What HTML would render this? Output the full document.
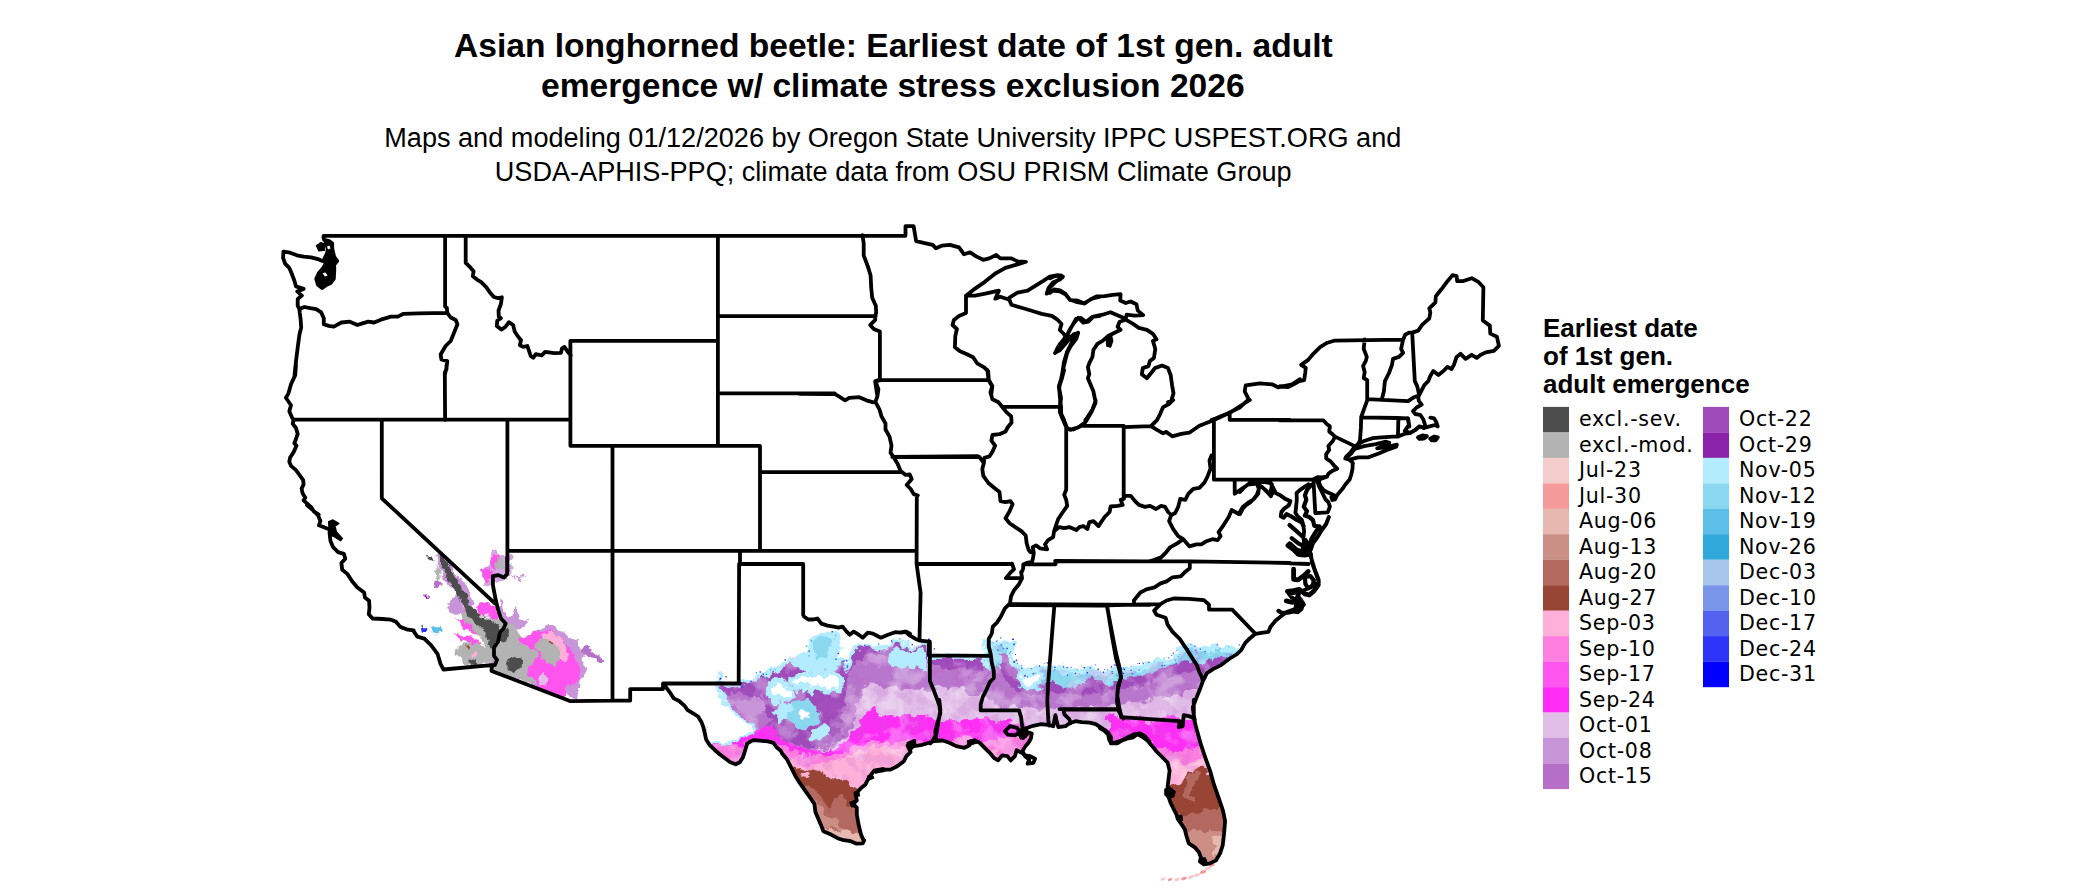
<!DOCTYPE html>
<html><head><meta charset="utf-8"><title>Asian longhorned beetle map</title>
<style>
html,body{margin:0;padding:0;background:#fff}
body{width:2100px;height:892px;overflow:hidden;position:relative;font-family:"Liberation Sans",Arial,sans-serif}
svg{position:absolute;left:0;top:0}
.t{font:bold 33.6px "Liberation Sans",Arial,sans-serif;fill:#000;text-anchor:middle}
.s{font:27.12px "Liberation Sans",Arial,sans-serif;fill:#000;text-anchor:middle}
.lt{font:bold 26px "Liberation Sans",Arial,sans-serif;fill:#000}
.ll text{font:20.6px "DejaVu Sans",Verdana,sans-serif;fill:#000;letter-spacing:0.7px}
.b path{fill:none;stroke:#000;stroke-width:3.8;stroke-linejoin:round;stroke-linecap:round}
</style></head><body>
<svg width="2100" height="892" viewBox="0 0 2100 892">
<rect width="2100" height="892" fill="#fff"/>
<text class="t" x="893.4" y="57">Asian longhorned beetle: Earliest date of 1st gen. adult</text>
<text class="t" x="892.8" y="96.8">emergence w/ climate stress exclusion 2026</text>
<text class="s" x="892.8" y="147.2">Maps and modeling 01/12/2026 by Oregon State University IPPC USPEST.ORG and</text>
<text class="s" x="893.2" y="180.8">USDA-APHIS-PPQ; climate data from OSU PRISM Climate Group</text>
<defs>
<filter id="rough" x="-5%" y="-5%" width="110%" height="110%"><feTurbulence type="fractalNoise" baseFrequency="0.09" numOctaves="3" seed="7" result="n"/><feDisplacementMap in="SourceGraphic" in2="n" scale="14" xChannelSelector="R" yChannelSelector="G"/></filter>
<filter id="rough2" x="-5%" y="-5%" width="110%" height="110%"><feTurbulence type="fractalNoise" baseFrequency="0.12" numOctaves="3" seed="3" result="n"/><feDisplacementMap in="SourceGraphic" in2="n" scale="9" xChannelSelector="R" yChannelSelector="G"/></filter>
<filter id="blotch" x="0" y="0" width="100%" height="100%"><feTurbulence type="fractalNoise" baseFrequency="0.045" numOctaves="3" seed="11"/><feColorMatrix values="0 0 0 0 1  0 0 0 0 1  0 0 0 0 1  1.8 0 0 0 -0.4"/><feComponentTransfer><feFuncA type="discrete" tableValues="0 0 0 0 0.12 0.24 0.3 0.3"/></feComponentTransfer></filter>
<filter id="blotch2" x="0" y="0" width="100%" height="100%"><feTurbulence type="fractalNoise" baseFrequency="0.06" numOctaves="3" seed="23"/><feColorMatrix values="0 0 0 0 0.5  0 0 0 0 0.1  0 0 0 0 0.6  0 1.8 0 0 -0.4"/><feComponentTransfer><feFuncA type="discrete" tableValues="0 0 0 0 0.08 0.16 0.2 0.2"/></feComponentTransfer></filter>
</defs>
<g filter="url(#rough)">
<path d="M703.4 737.9 L710.2 743 L721.9 745.3 L733.7 741.3 L745.5 736.3 L753.2 731.2 L748.8 722.8 L737.1 714.4 L727 706 L721.9 697.6 L717.6 687.5 L720.3 674.1 L725.3 682.5 L737.1 685.8 L748.8 680.8 L757.2 678.1 L765.7 675.7 L774.1 669 L780.8 666.7 L787.5 662.3 L790.9 657.2 L801 655.6 L807.7 652.2 L809.4 642.1 L817.8 637.1 L826.2 633 L835.3 632 L837.9 645.5 L835.3 657.2 L843 662.3 L848.7 669 L850.7 657.2 L853.1 648.8 L861.5 645.5 L873.3 646.5 L883.3 648.8 L891.7 645.5 L898.5 640.4 L905.2 645.5 L913.6 647.2 L922 643.8 L929.4 645.5 L930.4 657.2 L985.9 657.2 L990.3 657.2 L990.9 648.8 L996 645.5 L1000 643.8 L1006.7 642.1 L1011.8 645.5 L1010.1 657.2 L1016.8 667.3 L1025.2 672.4 L1033.6 670.7 L1042 667.3 L1050.4 670.7 L1057.2 669 L1067.2 670.7 L1077.3 672.4 L1087.4 669 L1097.5 670.7 L1107.6 672.4 L1116 670.7 L1124.4 670.7 L1134.5 669 L1147.9 665.7 L1158 662.3 L1168.1 660.6 L1178.2 657.2 L1183.3 648.8 L1188.3 645.5 L1198.4 650.5 L1208.5 652.2 L1215.2 645.5 L1221.9 650.5 L1235.4 652.2 L1245.5 648.8 L1269 648.8 L1269 892 L703.4 892Z" fill="#9f4bba" stroke="#b3ecff" stroke-width="3.5" stroke-linejoin="round"/>
<path d="M986.6 640.4 L1000 643.8 L1006.7 642.1 L1011.8 645.5 L1010.1 657.2 L1016.8 667.3 L1025.2 672.4 L1033.6 670.7 L1042 667.3 L1050.4 670.7 L1057.2 669 L1067.2 670.7 L1077.3 672.4 L1087.4 669 L1097.5 670.7 L1107.6 672.4 L1116 670.7 L1124.4 670.7 L1134.5 669 L1147.9 665.7 L1158 662.3 L1168.1 660.6 L1178.2 657.2 L1183.3 648.8 L1188.3 645.5 L1198.4 650.5 L1208.5 652.2 L1215.2 645.5 L1221.9 650.5 L1235.4 652.2 L1245.5 648.8 L1269 648.8 L1269 892 L986.6 892Z" fill="#8ad7f0" stroke="#b3ecff" stroke-width="6" stroke-linejoin="round"/>
<path d="M1000 652.2 L1006.7 657.2 L1013.4 670.7 L1020.2 687.5 L1033.6 689.2 L1043.7 687.5 L1050.4 680.8 L1063.9 687.5 L1077.3 687.5 L1087.4 679.1 L1094.1 674.1 L1100.9 685.8 L1114.3 684.1 L1121 679.1 L1134.5 675.7 L1151.3 672.4 L1168.1 667.3 L1181.6 662.3 L1195 660.6 L1201.7 662.3 L1215.2 657.2 L1228.6 657.2 L1242.1 655.6 L1269 655.6 L1269 892 L1000 892Z" fill="#9f4bba"/>
<path d="M690 748 L721.9 697.6 L732 692.6 L743.8 690.9 L752.2 697.6 L762.3 711 L770.7 717.8 L769 727.9 L778.1 735.3 L790.9 741.3 L804.3 748 L824.5 748 L837.9 741.3 L844.7 724.5 L841.3 707.7 L848 690.9 L851.4 670.7 L856.4 658.9 L864.8 653.9 L878.3 655.6 L891.7 655.6 L908.6 657.2 L925.4 658.9 L938.8 668 L959 669 L979.2 670 L989.3 670.7 L992.6 667.3 L1000 667.3 L1010.1 687.5 L1020.2 694.2 L1033.6 695.9 L1050.4 692.6 L1067.2 694.2 L1084.1 694.2 L1100.9 694.2 L1114.3 690.9 L1127.8 687.5 L1141.2 684.1 L1154.7 679.1 L1168.1 675.7 L1181.6 670.7 L1195 669 L1205.1 670.7 L1235.4 670.7 L1269 670.7 L1269 892 L690 892Z" fill="#b877cc"/>
<path d="M690 751.4 L790.9 748 L807.7 751.4 L831.2 748 L848 734.6 L854.8 717.8 L858.1 701 L864.8 687.5 L878.3 684.1 L891.7 687.5 L905.2 690.9 L922 687.5 L929.4 689.2 L942.2 687.5 L955.6 685.8 L969.1 690.9 L982.5 694.2 L992.6 701 L1000 707.7 L1020.2 706 L1033.6 707.7 L1050.4 709.4 L1067.2 707.7 L1084.1 706 L1100.9 706 L1114.3 704.3 L1127.8 702.6 L1144.6 701 L1158 697.6 L1174.8 694.2 L1188.3 690.9 L1198.4 690.9 L1235.4 690.9 L1269 690.9 L1269 892 L690 892Z" fill="#e1bee7"/>
<path d="M690 741.3 L740.4 737.9 L757.2 731.2 L770.7 727.9 L780.8 734.6 L794.2 744.7 L807.7 751.4 L824.5 750.7 L837.9 746.4 L848 737.9 L858.1 724.5 L864.8 714.4 L873.3 709.4 L881.7 716.1 L891.7 717.8 L908.6 716.1 L922 712.7 L932.1 716.1 L945.5 722.8 L959 721.1 L972.4 719.5 L985.9 716.1 L999.3 721.1 L1000 722.8 L1016.8 721.1 L1023.5 723.8 L1025.2 731.2 L1107.6 731.2 L1111 712.7 L1117.7 711 L1127.8 716.1 L1134.5 719.5 L1147.9 721.1 L1161.4 719.5 L1171.5 714.4 L1181.6 717.8 L1191.7 719.5 L1196.7 721.1 L1235.4 721.1 L1269 721.1 L1269 892 L690 892Z" fill="#ff2df5"/>
<path d="M690 748 L770.7 741.3 L784.1 748 L801 754.8 L824.5 754.8 L841.3 753.1 L858.1 746.4 L871.6 741.3 L885 743 L898.5 739.6 L911.9 741.3 L925.4 743 L938.8 744.7 L952.3 741.3 L965.7 737.9 L982.5 739.6 L999.3 741.3 L1000 737.9 L1020.2 734.6 L1033.6 737.9 L1033.6 751.4 L1134.5 751.4 L1141.2 737.9 L1154.7 748 L1168.1 748 L1181.6 751.4 L1195 748 L1201.7 746.4 L1235.4 746.4 L1269 746.4 L1269 892 L690 892Z" fill="#ff7fe0"/>
<path d="M690 764.8 L787.5 761.5 L801 764.8 L824.5 763.2 L841.3 758.1 L858.1 751.4 L871.6 746.4 L891.7 748 L905.2 748 L922 744.7 L932.1 743 L945.5 748 L992.6 751.4 L1000 758.1 L1151.3 758.1 L1161.4 758.1 L1174.8 761.5 L1188.3 761.5 L1201.7 758.1 L1206.8 761.5 L1235.4 761.5 L1269 761.5 L1269 892 L690 892Z" fill="#ffb0d8"/>
</g>
<clipPath id="oc"><path d="M703.4 737.9 L710.2 743 L721.9 745.3 L733.7 741.3 L745.5 736.3 L753.2 731.2 L748.8 722.8 L737.1 714.4 L727 706 L721.9 697.6 L717.6 687.5 L720.3 674.1 L725.3 682.5 L737.1 685.8 L748.8 680.8 L757.2 678.1 L765.7 675.7 L774.1 669 L780.8 666.7 L787.5 662.3 L790.9 657.2 L801 655.6 L807.7 652.2 L809.4 642.1 L817.8 637.1 L826.2 633 L835.3 632 L837.9 645.5 L835.3 657.2 L843 662.3 L848.7 669 L850.7 657.2 L853.1 648.8 L861.5 645.5 L873.3 646.5 L883.3 648.8 L891.7 645.5 L898.5 640.4 L905.2 645.5 L913.6 647.2 L922 643.8 L929.4 645.5 L930.4 657.2 L985.9 657.2 L990.3 657.2 L990.9 648.8 L996 645.5 L1000 643.8 L1006.7 642.1 L1011.8 645.5 L1010.1 657.2 L1016.8 667.3 L1025.2 672.4 L1033.6 670.7 L1042 667.3 L1050.4 670.7 L1057.2 669 L1067.2 670.7 L1077.3 672.4 L1087.4 669 L1097.5 670.7 L1107.6 672.4 L1116 670.7 L1124.4 670.7 L1134.5 669 L1147.9 665.7 L1158 662.3 L1168.1 660.6 L1178.2 657.2 L1183.3 648.8 L1188.3 645.5 L1198.4 650.5 L1208.5 652.2 L1215.2 645.5 L1221.9 650.5 L1235.4 652.2 L1245.5 648.8 L1269 648.8 L1269 892 L703.4 892Z"/></clipPath>
<g clip-path="url(#oc)"><rect x="690" y="630" width="640" height="262" fill="#fff" filter="url(#blotch)"/><rect x="690" y="630" width="640" height="262" fill="#fff" filter="url(#blotch2)"/></g>
<g filter="url(#rough)">
<path d="M781.1 770.6 L799.2 769.6 L801.2 767.6 L807.3 770.6 L815.4 768.6 L821.4 771.6 L825.5 777.7 L831.5 779.7 L837.6 776.7 L843.6 778.7 L848.7 784.7 L853.7 786.8 L858.7 788.8 L882 788.8 L882 892 L781.1 892Z" fill="#994536"/>
<path d="M781.1 784.7 L801.2 784.7 L809.3 785.8 L815.4 789.8 L821.4 796.9 L825.5 802.9 L830.5 807.9 L833.5 800.9 L838.6 796.9 L843.6 795.8 L848.7 803.9 L851.7 806.9 L859.8 804.9 L882 804.9 L882 892 L781.1 892Z" fill="#b3695e"/>
<path d="M809.3 796.9 L817.4 800.9 L821.4 806.9 L826.5 814 L831.5 818 L837.6 820.1 L841.6 829.1 L831.5 829.1 L821.4 825.1 L815.4 813 L810.3 800.9Z" fill="#cc8f85"/>
<path d="M801.2 826.1 L819.4 825.1 L827.5 829.1 L835.5 831.2 L841.6 829.1 L849.7 831.2 L856.7 834.2 L863.8 835.2 L882 835.2 L882 892 L801.2 892Z" fill="#e6b8af"/>
<path d="M801.6 774.3 L807.3 773.6 L808.9 777.7 L804.3 779.7 L801.2 777.7Z" fill="#ffb0d8"/>
<path d="M1150.4 784.7 L1168.6 784.7 L1174.7 782.7 L1180.7 780.7 L1184.7 774.7 L1190.8 770.6 L1196.9 767.6 L1202.9 766.6 L1206.9 769.6 L1211 774.7 L1231.2 774.7 L1231.2 892 L1150.4 892Z" fill="#994536"/>
<path d="M1184.7 776.7 L1194.8 770.6 L1200.9 770.6 L1196.9 780.7 L1192.8 790.8 L1194.8 800.9 L1190.8 804.9 L1186.8 794.8 L1184.7 786.8Z" fill="#b3695e"/>
<path d="M1150.4 813 L1174.7 813 L1182.7 816 L1190.8 813 L1200.9 812 L1209 810 L1219 809 L1241.2 809 L1241.2 892 L1150.4 892Z" fill="#b3695e"/>
<path d="M1150.4 831.2 L1186.8 831.2 L1194.8 833.2 L1200.9 829.1 L1206.9 833.2 L1213 829.1 L1221.1 831.2 L1241.2 831.2 L1241.2 892 L1150.4 892Z" fill="#cc8f85"/>
<path d="M1210 839.2 L1217 835.2 L1224.1 837.2 L1223.5 847.3 L1219 857.4 L1213 859.4 L1216 849.3 L1213 843.3Z" fill="#e6b8af"/>
</g>
<g filter="url(#rough)">
<path d="M710.2 743 L721.9 745.3 L733.7 741.3 L745.5 736.3 L753.2 731.2 L748.8 722.8 L737.1 714.4 L727 706 L721.9 697.6 L717.6 687.5 L719.6 674.1 L710.2 667.3 L683.3 667.3 L683.3 717.8 L700.1 724.5 L706.8 737.9Z" fill="#fff"/>
<path d="M710.2 743 L721.9 745.3 L733.7 741.3 L745.5 736.3 L753.2 731.2 L748.8 722.8 L737.1 714.4 L727 706 L721.9 697.6 L717.6 687.5 L719.6 674.1" fill="none" stroke="#b3ecff" stroke-width="3" stroke-linejoin="round" stroke-linecap="round"/>
<path d="M790.9 657.2 L807.7 652.2 L809.4 642.1 L817.8 637.1 L826.2 633 L835.3 632 L837.9 645.5 L835.3 657.2 L843 662.3 L837.9 670.7 L824.5 669 L817.8 674.1 L804.3 670.7 L794.2 667.3Z" fill="#b3ecff"/>
<path d="M814.4 640.4 L824.5 637.1 L831.2 643.8 L827.9 657.2 L819.5 662.3 L816.1 650.5Z" fill="#8ad7f0"/>
<path d="M888.4 652.2 L898.5 648.8 L908.6 652.2 L922 648.8 L927.1 657.2 L925.4 669 L915.3 665.7 L908.6 670.7 L898.5 667.3 L890.1 662.3Z" fill="#b3ecff"/>
<path d="M769 684.1 L777.4 680.1 L789.2 685.8 L792.6 694.2 L785.8 701 L774.1 699.3 L768 692.6Z" fill="#fff" stroke="#b3ecff" stroke-width="5" stroke-linejoin="round"/>
<path d="M790.9 678.1 L804.3 674.1 L817.8 675.7 L827.9 670.7 L837.9 674.1 L843 684.1 L837.9 690.9 L824.5 687.5 L814.4 690.9 L804.3 687.5 L794.2 685.8Z" fill="#fff" stroke="#b3ecff" stroke-width="5" stroke-linejoin="round"/>
<path d="M794.2 707.7 L806 704.3 L814.4 711 L812.7 721.1 L802.6 724.5 L794.2 719.5Z" fill="#fff" stroke="#8ad7f0" stroke-width="9" stroke-linejoin="round"/>
<path d="M775.7 706 L784.1 702.6 L790.9 707.7 L789.2 717.8 L780.8 722.8 L775.7 716.1Z" fill="#b3ecff"/>
<path d="M807.7 737.9 L814.4 731.2 L824.5 726.2 L829.5 729.5 L824.5 737.9 L814.4 741.3Z" fill="#b3ecff"/>
<path d="M1016.8 675.7 L1026.9 673.4 L1037 674.1 L1043 679.1 L1038.7 685.8 L1028.6 687.5 L1020.2 684.1Z" fill="#fff" stroke="#b3ecff" stroke-width="4" stroke-linejoin="round"/>
<path d="M740.4 701 L752.2 695.9 L764 702.6 L765.7 712.7 L753.9 716.1 L742.1 711Z" fill="#c896d8"/>
</g>
<g filter="url(#rough2)">
<path d="M492.3 549.3 L495.7 547.6 L499.1 555.1 L504.1 554.3 L507.5 553.5 L511.7 556 L510.8 565.2 L511.7 573.6 L507.5 578.7 L500.7 580.4 L494 582.1 L489 587.1 L484.8 585.4 L485.6 580.4 L481.4 577 L480.6 570.3 L486.4 567.8 L489 563.5 L490.6 556.8Z" fill="#d3a6df"/>
<path d="M481.4 570.3 L488.1 568.3 L493.2 572 L494 577.8 L488.1 582.9 L483.1 580.4Z" fill="#ff55ee"/>
<path d="M489.8 559.3 L495.7 555.1 L500.7 556 L499.9 562.7 L496.5 569.4 L491.5 567.8Z" fill="#ff55ee"/>
<path d="M496.5 558.5 L500.7 556.8 L504.1 560.2 L503.3 566.9 L499.1 569.4 L496.5 565.2Z" fill="#b3b3b3"/>
<path d="M511.7 573.6 L517.6 578.7 L520.9 584.6 L522.6 582.9 L519.2 577.8 L525.1 575.7 L523.4 574.5 L517.6 576.2Z" fill="#c896d8"/>
<path d="M435.1 551.8 L441 552.6 L447.8 559.3 L452.8 568.6 L456.2 576.2 L462.1 580.4 L467.9 587.1 L470.5 595.5 L474.7 603.9 L469.6 609 L462.1 606.4 L453.6 609.8 L446.9 608.1 L451.1 601.4 L457.8 596.3 L456.2 588.8 L450.3 586.3 L445.2 579.5 L441 572 L436.8 565.2Z" fill="#c896d8"/>
<path d="M426.7 556 L430.9 556.8 L432.6 561 L429.3 560.2Z" fill="#4d4d4d"/>
<path d="M434.3 588.8 L436.8 582.1 L441 581.2 L441.9 586.3 L438.5 590.5Z" fill="#b56fc9"/>
<path d="M436 566.9 L440.2 570.3 L441 579.5 L437.7 580.4Z" fill="#b3b3b3"/>
<path d="M424.2 594.7 L427.6 594.2 L427.7 597.2 L424.7 597.5Z" fill="#8a22aa"/>
<path d="M475.5 606.4 L487.3 603.1 L494.9 606.4 L499.9 615.7 L494.9 619.9 L487.3 616.5 L479.7 614.9Z" fill="#ff55ee"/>
<path d="M446.9 603.9 L458.7 606.4 L470.5 610.6 L477.2 615.7 L470.5 617.4 L460.4 614 L450.3 610.6Z" fill="#c896d8"/>
<path d="M463.7 612.3 L475.5 614 L487.3 617.4 L499.1 619.1 L504.1 623.3 L499.1 634.2 L495.7 642.6 L494 654.4 L487.3 651 L482.2 640.9 L475.5 634.2 L468.8 627.5 L462.1 620.7 L458.7 615.7Z" fill="#b3b3b3"/>
<path d="M457 619.1 L463.7 620.7 L472.1 629.2 L477.2 635.9 L470.5 634.2 L463.7 627.5Z" fill="#ff55ee"/>
<path d="M452 631.7 L460.4 634.2 L470.5 637.6 L478.9 642.6 L483.9 649.3 L475.5 647.7 L467.1 640.9 L458.7 637.6Z" fill="#ff55ee"/>
<path d="M438.3 554.5 L445.7 557.7 L451.1 570.5 L456.4 580.1 L463.8 591.8 L470.2 602.4 L476.6 612 L485.1 618.4 L495.8 623.8 L501.1 625.9 L500.1 634.4 L495.8 642.9 L491.5 649.3 L487.3 640.8 L485.1 630.1 L476.6 623.8 L469.2 617.4 L462.8 606.7 L456.4 593.9 L450 583.3 L444.7 571.6 L440 562Z" fill="#4d4d4d"/>
<path d="M504.3 627 L508.6 630.1 L507.5 638.7 L503.3 642.9 L500.1 636.5Z" fill="#4d4d4d"/>
<path d="M457.8 647.7 L463.7 644.3 L470.5 640.9 L477.2 644.3 L485.6 647.7 L493.2 651 L496.5 657.7 L496.5 663.6 L464.6 665.3 L460.4 657.7 L457 652.7Z" fill="#b3b3b3"/>
<path d="M471.3 653.5 L475.5 653 L475.8 656.4 L471.8 656.9Z" fill="#ffb0d8"/>
<path d="M471.3 661.1 L476.3 660.3 L475.5 664.5 L471.8 664.8Z" fill="#4d4d4d"/>
<path d="M466.8 645.1 L469.6 645.6 L468.8 648 L466.4 647.3Z" fill="#994536"/>
<path d="M499.1 600.6 L502.1 600.2 L504.1 610.6 L507.5 619.1 L512.2 614.9 L514.2 606.4 L516.2 606.4 L517.6 615.7 L521.8 621.6 L526.8 619.9 L527.7 624.1 L520.9 627.5 L515.9 634.2 L524.3 635.9 L534.4 630.8 L541.1 627.5 L547.8 624.1 L554.6 627.5 L559.6 630.8 L564.7 631.7 L568 639.2 L577.3 638.4 L574.8 642.6 L581.5 649.3 L586.5 646 L594.9 652.7 L603.3 660.3 L601.7 662.8 L593.3 657.7 L586.5 656.1 L581.5 657.7 L585.7 672.9 L579.8 679.6 L578.1 699.8 L490.6 670.4 L494 656.1 L495.7 647.7 L500.7 634.2 L504.1 624.1 L502.4 619.1 L499.1 610.6Z" fill="#c896d8"/>
<path d="M499.1 620.7 L507.5 622.4 L514.2 625.8 L520.9 634.2 L527.7 637.6 L537.7 640.9 L547.8 639.2 L554.6 642.6 L559.6 651 L561.3 661.1 L554.6 667.8 L544.5 672.9 L536.1 681.3 L527.7 684.7 L520.9 679.6 L490.6 670.4 L494.9 663.6 L494 656.1 L495.7 647.7 L499.1 634.2 L504.1 624.1Z" fill="#b3b3b3"/>
<path d="M517.6 637.6 L524.3 635.9 L534.4 631.7 L541.1 630.8 L549.5 630.8 L556.2 634.2 L563 640.9 L569.7 649.3 L574.8 657.7 L578.1 667.8 L579 677.9 L574.8 684.7 L568 683 L563 699.8 L544.5 699.8 L537.7 683 L529.3 674.6 L527.7 669.5 L531 661.1 L537.7 656.1 L534.4 649.3 L527.7 647.7 L520.9 644.3Z" fill="#ff55ee"/>
<path d="M541.1 634.2 L549.5 631.7 L557.9 635.9 L564.7 644.3 L568 654.4 L566.3 661.1 L559.6 656.1 L554.6 649.3 L547.8 644.3 L542.8 640.9Z" fill="#ffb0d8"/>
<path d="M537.7 640.9 L547.8 639.2 L554.6 642.6 L559.6 651 L561.3 661.1 L554.6 666.2 L547.8 662.8 L541.1 657.7 L536.1 649.3Z" fill="#b3b3b3"/>
<path d="M507.5 659.4 L514.2 656.9 L520.9 659.4 L520.9 666.2 L514.2 670.4 L507.5 667.8Z" fill="#4d4d4d"/>
<path d="M500.7 630.8 L507.5 627.5 L510 634.2 L506.6 640.9 L502.4 642.6 L499.1 639.2Z" fill="#4d4d4d"/>
<path d="M537.7 676.2 L544.5 672.9 L547.8 679.6 L544.5 684.7 L539.4 683Z" fill="#e1bee7"/>
<path d="M548.7 640.9 L554.6 641.8 L553.7 644.3 L549.5 643.4Z" fill="#994536"/>
<path d="M581.5 647.7 L586.5 645.6 L594.9 652.4 L603.3 659.8 L601.7 662.5 L593.3 657.7 L586.5 655.7 L582.3 652.7Z" fill="#b56fc9"/>
<path d="M420 627.5 L425.9 627.1 L426.4 630.8 L420.8 631.7Z" fill="#2b34f8"/>
<path d="M431.8 627.5 L441 626.1 L441.5 631.7 L432.6 632.5Z" fill="#5cc0e8"/>
</g>
<rect x="1067.0" y="674.6" width="1.0" height="1.0" fill="#0000ff"/><rect x="1215.1" y="650.0" width="1.2" height="1.2" fill="#5cc0e8"/><rect x="986.8" y="655.8" width="1.2" height="1.2" fill="#2b34f8"/><rect x="1049.8" y="666.0" width="1.2" height="1.2" fill="#5462f0"/><rect x="1034.5" y="672.7" width="1.0" height="1.0" fill="#5462f0"/><rect x="1139.0" y="663.1" width="1.0" height="1.0" fill="#0000ff"/><rect x="1174.9" y="659.6" width="1.2" height="1.2" fill="#2fa9dc"/><rect x="1043.8" y="663.1" width="1.0" height="1.0" fill="#2fa9dc"/><rect x="1015.7" y="659.6" width="1.5" height="1.5" fill="#2b34f8"/><rect x="1038.9" y="665.4" width="1.2" height="1.2" fill="#0000ff"/><rect x="1137.4" y="663.0" width="1.0" height="1.0" fill="#5462f0"/><rect x="1010.0" y="651.4" width="1.2" height="1.2" fill="#2fa9dc"/><rect x="928.1" y="638.6" width="1.5" height="1.5" fill="#0000ff"/><rect x="1122.7" y="667.5" width="1.5" height="1.5" fill="#5462f0"/><rect x="1190.5" y="643.9" width="1.0" height="1.0" fill="#5462f0"/><rect x="929.2" y="654.5" width="1.5" height="1.5" fill="#5462f0"/><rect x="1242.3" y="649.5" width="1.5" height="1.5" fill="#2b34f8"/><rect x="927.0" y="645.1" width="1.5" height="1.5" fill="#5462f0"/><rect x="1024.2" y="675.0" width="1.5" height="1.5" fill="#2b34f8"/><rect x="1183.9" y="647.0" width="1.5" height="1.5" fill="#0000ff"/><rect x="1185.8" y="651.0" width="1.5" height="1.5" fill="#2fa9dc"/><rect x="1081.2" y="666.4" width="1.0" height="1.0" fill="#2fa9dc"/><rect x="1110.8" y="666.3" width="1.2" height="1.2" fill="#0000ff"/><rect x="1076.9" y="669.0" width="1.0" height="1.0" fill="#2fa9dc"/><rect x="1103.0" y="671.7" width="1.0" height="1.0" fill="#0000ff"/><rect x="1094.8" y="664.3" width="1.0" height="1.0" fill="#5462f0"/><rect x="1230.6" y="654.0" width="1.0" height="1.0" fill="#5462f0"/><rect x="1122.6" y="668.8" width="1.2" height="1.2" fill="#5cc0e8"/><rect x="991.3" y="659.8" width="1.0" height="1.0" fill="#2fa9dc"/><rect x="1111.7" y="672.8" width="1.0" height="1.0" fill="#0000ff"/><rect x="1012.2" y="638.5" width="1.5" height="1.5" fill="#0000ff"/><rect x="1168.3" y="657.4" width="1.0" height="1.0" fill="#0000ff"/><rect x="1015.0" y="654.0" width="1.0" height="1.0" fill="#2b34f8"/><rect x="1218.1" y="649.5" width="1.5" height="1.5" fill="#5cc0e8"/><rect x="1190.8" y="650.7" width="1.2" height="1.2" fill="#5cc0e8"/><rect x="1006.4" y="647.7" width="1.5" height="1.5" fill="#2b34f8"/><rect x="1204.6" y="650.9" width="1.0" height="1.0" fill="#2b34f8"/><rect x="1216.7" y="644.3" width="1.0" height="1.0" fill="#0000ff"/><rect x="1123.1" y="672.8" width="1.0" height="1.0" fill="#0000ff"/><rect x="1131.4" y="672.8" width="1.5" height="1.5" fill="#5462f0"/><rect x="1066.4" y="666.8" width="1.2" height="1.2" fill="#2b34f8"/><rect x="1113.7" y="664.4" width="1.0" height="1.0" fill="#0000ff"/><rect x="1241.8" y="645.9" width="1.2" height="1.2" fill="#2b34f8"/><rect x="1086.7" y="672.2" width="1.2" height="1.2" fill="#0000ff"/><rect x="1117.1" y="675.0" width="1.5" height="1.5" fill="#2fa9dc"/><rect x="1164.3" y="665.1" width="1.0" height="1.0" fill="#2b34f8"/><rect x="1186.8" y="648.2" width="1.0" height="1.0" fill="#5462f0"/><rect x="1219.4" y="647.7" width="1.5" height="1.5" fill="#5cc0e8"/><rect x="1187.8" y="648.0" width="1.0" height="1.0" fill="#0000ff"/><rect x="1162.0" y="662.0" width="1.0" height="1.0" fill="#5cc0e8"/><rect x="1161.5" y="665.2" width="1.2" height="1.2" fill="#2b34f8"/><rect x="1070.7" y="666.8" width="1.0" height="1.0" fill="#2b34f8"/><rect x="1178.8" y="654.1" width="1.0" height="1.0" fill="#5cc0e8"/><rect x="1018.4" y="669.2" width="1.0" height="1.0" fill="#5cc0e8"/><rect x="1046.5" y="662.2" width="1.5" height="1.5" fill="#5462f0"/><rect x="1021.2" y="667.7" width="1.2" height="1.2" fill="#2b34f8"/><rect x="1120.1" y="670.8" width="1.2" height="1.2" fill="#5cc0e8"/><rect x="1054.3" y="666.7" width="1.2" height="1.2" fill="#0000ff"/><rect x="1078.8" y="673.4" width="1.2" height="1.2" fill="#5cc0e8"/><rect x="1235.5" y="651.3" width="1.5" height="1.5" fill="#5cc0e8"/><rect x="997.3" y="649.4" width="1.5" height="1.5" fill="#5462f0"/><rect x="1089.5" y="667.2" width="1.2" height="1.2" fill="#2b34f8"/><rect x="1259.5" y="643.5" width="1.0" height="1.0" fill="#0000ff"/><rect x="1145.7" y="671.8" width="1.0" height="1.0" fill="#5cc0e8"/><rect x="995.8" y="640.7" width="1.2" height="1.2" fill="#5462f0"/><rect x="1000.6" y="644.4" width="1.0" height="1.0" fill="#0000ff"/><rect x="1107.0" y="669.3" width="1.2" height="1.2" fill="#2fa9dc"/><rect x="1177.9" y="656.0" width="1.0" height="1.0" fill="#2fa9dc"/><rect x="1142.5" y="662.6" width="1.5" height="1.5" fill="#5462f0"/><rect x="1063.0" y="666.3" width="1.2" height="1.2" fill="#2b34f8"/><rect x="933.6" y="648.1" width="1.5" height="1.5" fill="#5462f0"/><rect x="1074.9" y="672.8" width="1.2" height="1.2" fill="#2b34f8"/><rect x="1175.8" y="649.8" width="1.5" height="1.5" fill="#5cc0e8"/><rect x="1148.3" y="661.9" width="1.2" height="1.2" fill="#5462f0"/><rect x="1194.2" y="645.6" width="1.2" height="1.2" fill="#2b34f8"/><rect x="1008.9" y="652.8" width="1.0" height="1.0" fill="#5462f0"/><rect x="1196.4" y="651.7" width="1.2" height="1.2" fill="#5462f0"/><rect x="997.1" y="640.2" width="1.0" height="1.0" fill="#2fa9dc"/><rect x="1114.6" y="664.7" width="1.2" height="1.2" fill="#2b34f8"/><rect x="1121.0" y="670.8" width="1.2" height="1.2" fill="#2fa9dc"/><rect x="931.0" y="658.4" width="1.0" height="1.0" fill="#5cc0e8"/><rect x="999.9" y="637.2" width="1.5" height="1.5" fill="#2fa9dc"/><rect x="1175.6" y="663.0" width="1.5" height="1.5" fill="#5462f0"/><rect x="1199.7" y="648.5" width="1.2" height="1.2" fill="#2b34f8"/><rect x="1032.5" y="673.0" width="1.5" height="1.5" fill="#5462f0"/><rect x="1097.4" y="668.6" width="1.5" height="1.5" fill="#2b34f8"/><rect x="1083.6" y="666.9" width="1.5" height="1.5" fill="#2b34f8"/><rect x="1013.7" y="661.0" width="1.2" height="1.2" fill="#0000ff"/><rect x="1111.5" y="671.0" width="1.2" height="1.2" fill="#2b34f8"/><rect x="984.0" y="660.0" width="1.0" height="1.0" fill="#5cc0e8"/><rect x="986.9" y="653.3" width="1.0" height="1.0" fill="#2fa9dc"/><rect x="992.5" y="642.4" width="1.0" height="1.0" fill="#2fa9dc"/><rect x="1002.6" y="647.9" width="1.2" height="1.2" fill="#5462f0"/><rect x="1013.4" y="643.7" width="1.5" height="1.5" fill="#0000ff"/><rect x="1021.2" y="665.3" width="1.2" height="1.2" fill="#2fa9dc"/><rect x="1030.8" y="668.1" width="1.0" height="1.0" fill="#2b34f8"/><rect x="991.0" y="649.3" width="1.5" height="1.5" fill="#5cc0e8"/><rect x="1153.8" y="660.9" width="1.0" height="1.0" fill="#5cc0e8"/><rect x="1104.3" y="669.1" width="1.0" height="1.0" fill="#2b34f8"/><rect x="1130.7" y="665.7" width="1.0" height="1.0" fill="#2b34f8"/><rect x="1260.4" y="652.7" width="1.2" height="1.2" fill="#2fa9dc"/><rect x="1238.7" y="644.1" width="1.5" height="1.5" fill="#2fa9dc"/><rect x="1054.1" y="669.5" width="1.0" height="1.0" fill="#2b34f8"/><rect x="1013.7" y="643.3" width="1.2" height="1.2" fill="#5cc0e8"/><rect x="1138.6" y="669.3" width="1.2" height="1.2" fill="#5462f0"/><rect x="990.1" y="650.3" width="1.2" height="1.2" fill="#5462f0"/><rect x="1210.4" y="651.7" width="1.0" height="1.0" fill="#2fa9dc"/><rect x="1194.9" y="649.7" width="1.5" height="1.5" fill="#5462f0"/><rect x="1228.1" y="646.5" width="1.0" height="1.0" fill="#5cc0e8"/><rect x="1172.8" y="652.7" width="1.2" height="1.2" fill="#2b34f8"/><rect x="1203.8" y="652.4" width="1.5" height="1.5" fill="#5cc0e8"/><rect x="1121.3" y="674.9" width="1.5" height="1.5" fill="#5462f0"/><rect x="1121.7" y="672.4" width="1.2" height="1.2" fill="#5462f0"/><rect x="1123.9" y="668.9" width="1.2" height="1.2" fill="#0000ff"/><rect x="1130.4" y="669.7" width="1.2" height="1.2" fill="#2b34f8"/><rect x="1016.9" y="662.7" width="1.2" height="1.2" fill="#2fa9dc"/><rect x="1026.8" y="676.3" width="1.2" height="1.2" fill="#5462f0"/><rect x="1115.8" y="674.4" width="1.2" height="1.2" fill="#5cc0e8"/><rect x="1171.1" y="654.8" width="1.2" height="1.2" fill="#5462f0"/><rect x="1013.5" y="661.3" width="1.5" height="1.5" fill="#2b34f8"/><rect x="765.5" y="677.0" width="1.4" height="1.4" fill="#2fa9dc"/><rect x="741.4" y="686.4" width="1.4" height="1.4" fill="#2b34f8"/><rect x="770.2" y="669.1" width="1.4" height="1.4" fill="#5cc0e8"/><rect x="831.5" y="630.9" width="1.4" height="1.4" fill="#2b34f8"/><rect x="765.6" y="673.6" width="1.4" height="1.4" fill="#2fa9dc"/><rect x="808.4" y="650.4" width="1.4" height="1.4" fill="#2b34f8"/><rect x="889.2" y="651.1" width="1.4" height="1.4" fill="#2fa9dc"/><rect x="898.9" y="637.9" width="1.4" height="1.4" fill="#5cc0e8"/><rect x="755.7" y="672.0" width="1.4" height="1.4" fill="#2fa9dc"/><rect x="762.6" y="673.5" width="1.4" height="1.4" fill="#2b34f8"/><rect x="774.4" y="669.1" width="1.4" height="1.4" fill="#5cc0e8"/><rect x="835.0" y="634.7" width="1.4" height="1.4" fill="#5cc0e8"/><rect x="805.7" y="645.5" width="1.4" height="1.4" fill="#2fa9dc"/><rect x="843.2" y="660.3" width="1.4" height="1.4" fill="#2b34f8"/><rect x="719.4" y="678.3" width="1.4" height="1.4" fill="#2b34f8"/><rect x="835.3" y="658.5" width="1.4" height="1.4" fill="#2b34f8"/><rect x="899.1" y="642.2" width="1.4" height="1.4" fill="#5cc0e8"/><rect x="725.4" y="676.0" width="1.4" height="1.4" fill="#2b34f8"/><rect x="837.6" y="652.8" width="1.4" height="1.4" fill="#2b34f8"/><rect x="784.5" y="659.2" width="1.4" height="1.4" fill="#2b34f8"/><rect x="845.5" y="659.6" width="1.4" height="1.4" fill="#2fa9dc"/><rect x="720.1" y="677.7" width="1.4" height="1.4" fill="#2b34f8"/><rect x="877.9" y="643.3" width="1.4" height="1.4" fill="#2fa9dc"/><rect x="808.3" y="655.1" width="1.4" height="1.4" fill="#5cc0e8"/><rect x="846.1" y="660.2" width="1.4" height="1.4" fill="#2b34f8"/><rect x="743.7" y="684.1" width="1.4" height="1.4" fill="#5cc0e8"/><rect x="810.7" y="639.9" width="1.4" height="1.4" fill="#2fa9dc"/><rect x="883.0" y="651.9" width="1.4" height="1.4" fill="#5cc0e8"/><rect x="843.4" y="667.6" width="1.4" height="1.4" fill="#2fa9dc"/><rect x="911.6" y="643.9" width="1.4" height="1.4" fill="#2b34f8"/><rect x="904.4" y="648.2" width="1.4" height="1.4" fill="#5cc0e8"/><rect x="891.7" y="641.8" width="1.4" height="1.4" fill="#5cc0e8"/><rect x="847.0" y="665.0" width="1.4" height="1.4" fill="#5cc0e8"/><rect x="842.3" y="663.6" width="1.4" height="1.4" fill="#5cc0e8"/><rect x="864.1" y="644.7" width="1.4" height="1.4" fill="#2b34f8"/><rect x="846.6" y="664.7" width="1.4" height="1.4" fill="#2fa9dc"/><rect x="846.7" y="666.3" width="1.4" height="1.4" fill="#2b34f8"/><rect x="750.3" y="680.7" width="1.4" height="1.4" fill="#2b34f8"/><rect x="759.5" y="671.3" width="1.4" height="1.4" fill="#2b34f8"/><rect x="890.9" y="640.3" width="1.4" height="1.4" fill="#2b34f8"/>
<path d="M443.5 669.5 L494 664.9 L491.5 670.9 L570.6 701.2 L613 700.6 L630.2 700.6 L630.2 689.1 L639.2 689.1 L660 689.1 L663 689.1 L663.3 686.9 L665.8 686.9 L669.8 692.3 L673.8 698.4 L679.2 701 L684.6 705.8 L687.3 709.8 L692.7 713.2 L698.1 716.5 L701.4 721.9 L703.4 727.3 L704.8 733.3 L706.1 739.4 L709.5 744.8 L714.2 749.5 L719.6 754.2 L725 758.2 L730.3 762.3 L735.7 764.3 L739.8 762.3 L743.1 756.9 L745.2 750.2 L747.2 743.4 L753.2 740.1 L760 740.7 L768 741.4 L773.4 742.8 L776.8 747.5 L780.8 750.8 L782.2 753.5 L787.1 759.5 L791.2 767.6 L795.2 775.7 L800.2 783.7 L805.3 790.8 L810.3 797.9 L814.4 803.9 L815.4 812 L818.4 819 L821.4 826.1 L823.4 831.2 L831.5 834.8 L837.6 838.2 L843.6 840.2 L850.7 841.2 L856.7 843.7 L862.8 843.3 L864.2 840.2 L863.5 840.3 L861 834.4 L858.5 824.3 L856.8 814.2 L856.8 807.5 L852.1 804.1 L856.8 800.7 L855.5 794 L861.9 787.3 L865.2 784.8 L868.9 777.5 L873.6 771.3 L882.1 769.6 L890.5 769.6 L897.2 766.3 L903.9 761.2 L906.4 756.2 L910.6 752 L907.6 745.6 L914 741 L914 746.1 L920.7 745.2 L929.2 742.7 L934.2 741 L942.6 740.5 L949.3 742.7 L956.1 746.1 L964.5 747.8 L969.5 745.2 L968.7 741.9 L974.6 740.5 L979.6 742.7 L984.7 747.8 L989.7 752.8 L993.9 757.8 L998.1 760.4 L1002.3 755.3 L1007.4 756.2 L1010.7 760.4 L1014.9 756.2 L1016.6 750.3 L1021.7 752.8 L1025 755.3 L1030.1 756.2 L1035.1 758.7 L1033.4 762.9 L1027.6 763.7 L1029.2 759.5 L1025 756.2 L1022.5 751.1 L1025 746.9 L1028.4 742.7 L1030.9 738.5 L1031.8 733.5 L1026.7 731.8 L1026 728.2 L1026.1 728.2 L1033.2 725.8 L1041.2 724.2 L1049.3 725.2 L1053.3 726.2 L1055.4 715.1 L1056.4 720.2 L1058.4 727.2 L1065.5 726.2 L1069.5 723.2 L1075.5 721.2 L1081.6 722.2 L1089.7 722.6 L1095.7 724.2 L1100 728.2 L1104 730.3 L1108.1 734.3 L1109.1 739.3 L1111.1 743.4 L1117.2 743.4 L1122.2 740.4 L1128.2 738.3 L1133.3 737.3 L1137.3 734.3 L1141.4 736.3 L1147.4 740.4 L1152.5 746.4 L1156.5 751.5 L1162.6 757.5 L1167.6 762.6 L1169.6 770.6 L1168.6 778.7 L1167.6 786.8 L1168.6 796.9 L1170.6 802.9 L1173.6 809 L1176.7 815 L1177.7 819 L1180.7 823.1 L1184.7 829.1 L1186.8 837.2 L1188.8 843.3 L1194.8 847.3 L1198.9 852.3 L1200.9 857.4 L1199.9 861.4 L1203.9 864.4 L1210 863.4 L1216 860.4 L1220.1 853.3 L1222.7 845.3 L1224.1 833.2 L1225.1 821.1 L1223.1 811 L1219 798.9 L1214 784.7 L1210 770.6 L1204.9 756.5 L1200.9 744.4 L1196.9 730.3 L1193.8 718.2 L1193.8 708.1 L1193.8 700 L1193.8 715.5 L1192.8 707.5 L1195.8 699.4 L1199.9 689.3 L1202.9 681.2 L1206.9 673.2 L1213 669.1 L1221.1 665.1 L1229.1 659 L1237.2 654 L1241.2 650 L1245.3 642.9 L1250.3 637.9 L1255.4 633.8 L1261.4 632.8 L1268.5 631.8 L1270.5 626.8 L1275.5 620.7 L1281.6 615.7 L1287.7 611.6 L1293.7 609.6 L1299.8 608.6 L1303.8 604.6 L1298.7 601.5 L1291.7 597.5 L1288.7 593.5 L1296.7 592.5 L1303.8 590.4 L1309.8 587.4 L1313.9 584.4 L1318.9 582.4 L1316.9 576.3 L1313.9 568.2 L1311.9 562.2 L1310.9 554.1 L1308.8 548.1 L1305.8 540 L1420 540 L1420 892 L443.5 892Z" fill="#fff"/>
<ellipse cx="1163" cy="879" rx="2.6" ry="1.3" fill="#f4cccc" transform="rotate(-20 1163 879)"/>
<ellipse cx="1170" cy="879.5" rx="2.4" ry="1.2" fill="#f49a9a" transform="rotate(-20 1170 879.5)"/>
<ellipse cx="1177" cy="879.5" rx="3.0" ry="1.5" fill="#f4cccc" transform="rotate(-20 1177 879.5)"/>
<ellipse cx="1184" cy="878.5" rx="3.0" ry="1.5" fill="#f49a9a" transform="rotate(-20 1184 878.5)"/>
<ellipse cx="1191" cy="877" rx="3.2" ry="1.6" fill="#f4cccc" transform="rotate(-20 1191 877)"/>
<ellipse cx="1197" cy="875" rx="3.2" ry="1.6" fill="#f4cccc" transform="rotate(-20 1197 875)"/>
<ellipse cx="1203" cy="872" rx="3.2" ry="1.6" fill="#f49a9a" transform="rotate(-20 1203 872)"/>
<ellipse cx="1208" cy="868.5" rx="3.2" ry="1.6" fill="#f4cccc" transform="rotate(-20 1208 868.5)"/>
<ellipse cx="1212" cy="865" rx="3.0" ry="1.5" fill="#f49a9a" transform="rotate(-20 1212 865)"/>
<ellipse cx="1215.5" cy="861" rx="3.0" ry="1.5" fill="#f4cccc" transform="rotate(-20 1215.5 861)"/>
<path d="M1294 600 L1302 597 L1306 604 L1300 610 L1295 607Z" fill="#5cc0e8"/>
<g class="b">
<path d="M485 235.9 L324.6 235.9 L323.4 237.1 L324.1 239.8 L329.1 241 L332.2 243.2 L332.2 248.5 L333.3 253.2 L334.2 256.9 L337.2 261.1 L334.2 264.5 L334.3 270.4 L333.8 278.8 L330.5 283 L326.3 285 L322.1 288 L317.9 284.7 L316.2 278.8 L319 272.9 L323.3 267.9 L325.4 264.5 L325.1 261.1 L321.7 260.8 L317.9 259.1 M317.9 259.1 L311.1 257.3 L303.6 256.6 L296.9 255.3 L290.1 252.7 L283.4 251.6 L283.1 257.8 L285.1 263.7 L289.3 267.9 L291.8 273.8 L294.3 280.5 L296 286.4 L303.6 288.9 L297.2 291.4 L301.9 295.6 L297.7 299 L297.7 305.7 L299.4 309.1 M299.4 309.1 L304.4 307 L310.3 308.2 L316.2 309.1 L321.2 312.4 L323.8 318.3 L323.8 324.2 L328.8 325.9 L333.8 326.7 L341.4 322.5 L349.8 321.7 L357.4 325 L362.4 323.4 L368.3 321.7 L374.2 322.5 L382.6 319.1 L391 316.6 L397.7 316.6 L403.6 313.8 L417.9 313.3 L446.8 312.8 M445.1 235.9 L445.1 306.5 L446.8 307.7 L447.3 312.8 L450.7 317.5 L455.7 320 L457.4 324.2 L454.1 332.6 L450.7 341 L445.6 346 L440.6 354.5 L441.4 359.5 L447.3 361.2 L446.5 367.9 L444.8 375 M299.4 309.1 L299.7 312.4 L300.6 319.1 L301.2 327.6 L299.5 334.3 L297.9 346 L296.2 359.5 L294.5 375 M296 365 L295.2 375.1 L291 384.3 L288.4 393.6 L285.9 397.8 L291 405.3 L289.3 411.2 L291.8 417.1 L293.5 420 L292.7 423.8 L296 428 L297.7 433.9 L296 439 L294.3 443.2 L296.5 445.7 L293.5 452.4 L290.1 457.5 L289.3 461.7 L291 465.9 L296 470.1 L300.2 476 L303.2 480.2 L303.6 484.4 L301.6 488.6 L302.7 493.6 L305.3 497.8 L303.6 500.3 L311.1 507.1 L313.7 511.3 L318.7 514.6 M446.5 365 L446.5 369.2 L444.8 372.6 L445.1 420 M306.9 505 L312.8 510 L317.9 515.1 L320.4 521 L319 525.2 L327.1 528.5 L329.6 529.4 L329.6 533.6 L330.5 541.1 L333 547 L338 552.1 L343.9 553.8 L345.3 558.8 L341.4 563 L342.2 569.7 L347.3 573.9 L352.3 581.5 L357.4 587.4 L364.1 592.4 L364.9 597.5 L369.1 600.8 L369.5 607.6 L368.8 614.3 L372.5 618.5 L382.6 619 L391 619.7 L396 621.8 L400.3 626.9 L407.8 629.7 L413.7 630.3 M413.2 630.6 L417.3 636.6 L424.3 638.6 L431.4 645.7 L437.5 653.8 L440.5 663.9 L443.5 669.5 L494 664.9 M507.1 556.9 L507.1 574.1 L504 577.5 L498 575.1 L492.9 576.1 L492.9 585.2 L495.6 599.3 L498 609.4 L501 618.5 L505.7 623.5 L504 627.6 L500 632.6 L498 641.7 L494 647.7 L494 655.8 L497 659.8 L495 664.9 L491.9 665.9 L491.5 670.9 L570.6 701.2 L613 700.6 L630.2 700.6 L630.2 689.1 L639.2 689.1 M465.7 235.9 L465.7 262.8 L470.3 267.4 L473.6 271.2 L472.8 276.3 L477 279.6 L481.2 282.2 L486.2 287.2 L490.4 293.1 L493.8 297 L498 298.1 L501.9 297.3 L500.9 304 L498.5 310.7 L498.8 316.6 L500.9 318.3 L497.2 320.8 L496.8 325.9 L501.4 329.6 L505.6 326.7 L508.9 322.2 L513.1 325 L514.8 331.8 L518.2 336.8 L521 340.2 L519.9 345.2 L523.2 346.9 L527.4 346 L529.1 351.1 L530.8 356.1 L533.3 357.8 L535.8 354.1 L541.7 355.3 L545.1 351.9 L554.3 353.1 L561 352.8 L561.9 348.6 L564.4 346.9 L567.8 351.9 L570.8 355.3 M905.5 235.2 L905.5 226.1 L913.6 226.1 L916.2 241.2 L923.6 242.8 L932.7 244.9 L935.8 248.3 L941.8 245.7 L949.9 244.9 L959 247.3 L964 254.3 L970.1 252.3 L976.1 256.4 L983.2 259.8 L989.2 258.4 L996.3 255 L1000.3 258.4 L1011.4 258.4 L1017.5 261.4 L1025.9 261.8 L1017.5 264.4 L1005.4 267.9 L995.3 273.5 L985.2 281.6 L975.1 288.6 L966 295.7 M966 295.7 L966 312.9 L959 315.9 L953.9 319.9 L952.5 325 L956.9 329 L955.3 336.1 L954.9 347.2 L960 351.2 L967 354.2 L973.1 357.3 L977.1 363.3 L984.2 367.3 L988.2 371.4 L988.8 380.5 L992.3 386.5 L991.2 395 M966 295.7 L975.1 295.7 L985.2 293.7 L995.3 291.3 L998.9 290.7 L995.3 298.7 L1000.3 296.7 L1009.4 299.7 L1011.4 304.8 L1021.5 307.8 L1031.6 310.8 L1041.7 313.9 L1051.8 315.9 L1057.8 319.9 L1061.5 324 L1059.8 330 L1063.9 334 L1065.9 338.1 M1009.4 297.7 L1017.5 292.7 L1027.6 290.7 L1035.6 285.6 L1043.7 280.6 L1049.8 276.5 L1057.8 275.1 L1062.9 276.5 L1059.8 279.6 L1052.8 282.6 L1048.7 287.6 L1046.7 293.7 L1051.8 290.7 L1059.8 291.3 L1065.9 294.7 L1069.9 299.7 L1076 301.8 L1084.1 303.4 L1092.1 298.7 L1100 296.7 M1065.9 338.1 L1059.8 344.1 L1055.8 352.2 L1059.8 350.2 L1066.9 342.1 L1074 334 L1078 333 L1072 342.1 L1066.9 352.2 L1063.9 362.3 L1061.9 376.4 L1058.8 386.5 L1059.8 395 M1100 315.9 L1092.1 316.9 L1086.1 321.9 L1081 317.9 L1076 318.9 L1070.9 328 L1065.9 338.1 M862.5 235.2 L863.7 243.2 L863.7 255.4 L868.2 267.5 L870.6 275.5 L871.2 287.6 L872.2 297.7 L875.8 305.8 L876.2 312.9 L875.2 315.9 L875.2 319.9 L870.2 325 L873.8 329 L879.9 331.6 L879.9 380.5 L875.2 381.5 L876.2 388.5 L877.2 395 M1050 292.9 L1054 289.4 L1060.1 290.4 L1065.1 293.5 L1070.2 300.1 L1077.2 300.5 L1084.3 303.6 L1090.4 299.5 L1096.4 296.5 L1104.5 296.1 L1112.6 294.9 L1120.6 294.1 L1120.2 300.5 L1125.7 303 L1130.7 301.5 L1136.4 304.2 L1137.8 310.6 L1143.2 315.1 L1134.7 315.7 L1126.7 314.7 L1125.7 318.7 L1118.6 315.7 L1110.5 312.2 L1102.5 314.7 L1093.4 316.7 L1088.3 321.7 L1083.3 322.7 L1078.2 317.7 L1074.2 322.7 L1070.2 328.8 L1067.2 334.8 L1064.1 338.9 L1058.1 346.9 L1055 353 L1062.1 344.9 L1070.2 336.9 L1078.2 332.8 L1076.2 338.9 L1070.2 346.9 L1067.2 353 L1065.1 361.1 L1063.1 369.1 L1061.1 379.2 L1059.1 388.3 L1060.1 399.4 L1061.1 407.5 L1061.1 413.5 L1064.1 420 M1050 287.4 L1056.1 281.4 L1062.5 277.3 L1061.1 275.3 L1054 276.3 L1050 278.3 M1125.7 319.7 L1132.7 323.7 L1138.8 327.8 L1146.9 329.8 L1152.9 333.8 L1156.5 339.3 L1152.9 340.9 L1155.3 349 L1153.9 358 L1149.9 361.1 L1148.5 366.1 L1142.8 368.1 L1141.8 374.2 L1146.9 378.2 L1150.9 373.2 L1154.9 368.1 L1162 365.5 L1168 368.1 L1170.7 375.2 L1172.1 385.3 L1173.5 393.3 L1171.1 401.4 L1168 402 M1125.7 319.7 L1119.6 321.7 L1117.6 326.8 L1120.6 329.8 L1114.6 332.8 L1108.5 335.8 L1102.5 340.9 L1097.4 343.9 L1093.4 350 L1092.4 357 L1089.3 363.1 L1087.9 367.1 L1089.3 374.2 L1087.9 378.2 L1090.4 384.3 L1093.4 391.3 L1095.4 401.4 L1092.4 409.5 L1087.3 417.6 L1085.3 420 M1300 379.2 L1292.1 384.3 L1278 387.3 L1272 384.3 L1259.8 383.3 L1245.7 385.3 L1244.7 391.3 L1248.7 399.4 L1239.7 407.5 L1227.6 413.5 L1215.5 418.6 L1211.4 420 M1280 386.1 L1288.1 387.1 L1294.1 384.1 L1299.2 381.1 L1304.2 380.1 L1305.2 373 L1305.8 367.9 L1301.2 364.9 L1308.2 359.9 L1313.3 353.8 L1320.4 346.8 L1327.4 342.7 L1334.1 340.7 L1403.1 339.7 L1405.1 334.7 L1409.1 332.6 L1412.2 332.6 L1418.2 330.6 L1422.3 324.6 L1429.3 318.5 L1430.3 312.5 L1429.3 308.4 L1435.4 302.4 L1435.8 296.3 L1441.4 289.3 L1447.5 281.2 L1452.5 275.1 L1456.6 276.1 L1457.2 281.2 L1462.6 281.2 L1471.7 278.2 L1478.7 282.2 L1483.4 287.2 L1482.8 320.5 L1489.8 325.6 L1490.3 333.6 L1496.9 336.7 L1498.9 345.8 L1493.9 350.8 L1485.8 352.4 L1480.8 354.8 L1476.7 357.9 L1471.7 354.8 L1465.6 358.9 L1460.6 353.8 L1456.6 356.9 L1453.9 364.9 L1451.5 369 L1447.5 366.9 L1443.4 371 L1438.4 375 L1433.3 371 L1430.3 376 L1428.3 381.1 L1424.3 385.1 L1421.2 391.2 L1419.2 395.2 M1412.2 332.6 L1414.8 381.1 L1417.2 386.1 L1419.2 395.2 M1364.7 339.3 L1363.7 348.8 L1366.8 356.9 L1365.8 360.9 L1363.1 365.9 L1364.7 372 L1363.7 378 L1367.2 380.1 L1367.2 399.2 M1403.1 339.7 L1401.1 348.8 L1403.1 352.8 L1399 356.9 L1393 358.9 L1392 364.9 L1389 373 L1384.9 381.1 L1383.9 391.2 L1381.9 399.2 M1367.2 399.2 L1408.1 401.2 L1414.2 397.2 L1419.2 395.2 M1418.1 395.8 L1418.8 400.9 L1421.7 404.6 L1416.6 407.5 L1413 411.1 L1415.1 414 L1420.2 414.8 L1423.2 419.2 L1425.1 425 L1423.9 427.9 L1429.7 426.4 L1434.8 425 L1437.7 426.4 L1436.3 422.1 L1434.1 418.4 L1430.4 417.7 M1367.3 400.2 L1364.1 408.9 L1361.2 417 L1360.9 427.9 L1360 440.3 L1358.3 443.9 L1364.1 441 L1372.9 438.1 L1381.6 437.4 L1393.3 436.6 L1397.9 436.6 L1404.9 433.7 L1410 433 M1361.2 417.4 L1396.9 418 L1407.9 418.4 M1398.4 418.4 L1397.9 436.6 M1354.7 449 L1364.1 446.1 L1375.8 444.2 L1386 441.7 L1389.2 442.8 L1383.1 446.1 L1377.2 448.3 L1387.5 446.8 L1396.9 444.7 L1396.2 446.6 L1387.5 449.8 L1378.7 453.4 L1368.5 457.3 L1358.3 457.3 L1349.6 459.7 L1345.2 458.5 L1349.6 454.1Z M1279.6 420.3 L1323.3 420.3 L1327 424.3 L1329.9 426.4 L1329.2 431.5 L1332.8 434.5 L1335 436.6 L1354.7 446.1 M1335 436.6 L1332.8 441 L1328.4 446.1 L1329.2 449.8 L1326.2 454.1 L1326.2 458.5 L1330.6 461.4 L1334.3 465.8 L1337.2 468.7 L1332.1 470.9 L1328.4 473.8 L1327 476.7 L1321.9 477.5 L1317.5 477.2 L1314.6 478.9 M1349.6 460 L1352.8 462.9 L1352.5 468.7 L1351.3 474.5 L1349.6 479.6 L1345.2 484.7 L1342.3 489.1 L1337.2 494.9 L1335 499.3 L1332.4 500 L1331.3 497.1 L1333.8 494.9 L1328.4 492.8 L1323.3 489.8 L1320.4 486.2 L1318.9 481.8 L1320.4 478.9 L1327 476.7 M1313.4 479.2 L1315.3 513.2 L1327.7 512.4 L1329.9 506.6 L1328.4 502.2 L1325.5 499.3 L1321.9 492 L1318.9 486.2 L1317.5 481.8 L1315.3 478.2 M799.7 393.8 L830 394.2 L835 394.2 L840.1 397.2 L845.1 400.3 L849.2 397.8 L859.3 397.2 L866.3 400.3 L873.4 402.3 M878.4 380.1 L875.4 381.1 L878.4 389.2 L877.4 396.2 L875.4 401.9 L879.4 409.3 L881.5 416.4 L885.5 423.5 L885.5 429.5 L889.5 436.6 L891.5 445.7 L890.5 452.7 L893.6 457.2 L897.6 463.8 L900.6 470.9 L905.7 474.9 L909.7 474.5 L911.7 479 L906.7 485 L910.7 489 L913.7 494.1 L917.8 495.5 M893.6 457.2 L979.3 456.8 L982.3 460.8 L983.8 463.2 M987.4 370 L988.4 379.1 L992.4 386.1 L990.4 392.2 L992.4 399.3 L998.5 402.3 L1002.5 407.3 L1006.6 412.4 L1011.2 416.4 L1011.6 422.5 L1007.6 427.5 L1005.5 431.5 L999.5 434.2 L992.4 435 L991.4 440.6 L995.1 445.7 L992.4 451.7 L989.4 456.4 L984.4 457.8 L983.8 463.2 L982.3 468.9 L983.3 475.9 L988.4 483 L994.4 488 L999.5 492.1 L1000.5 501.2 L1005.5 502.2 L1010.6 501.2 L1012.6 504.2 L1009.6 511.2 L1005.5 518.3 L1009.6 523.3 L1015.6 527.4 L1021.7 531.4 L1025.7 535.5 L1026.7 543.5 L1028.7 550 M1002.5 406.9 L1060 406.9 M1064.1 370 L1062 378.1 L1059 387.2 L1061 398.2 L1060 406.9 L1061 414.4 L1064.1 420.4 L1067.1 428.5 L1073.1 429.5 L1080 426.5 M1060.2 400 L1059.8 412.1 L1063.2 420.2 L1066.2 427.2 L1070.3 429.9 L1078.3 427.2 L1085.4 422.2 L1091.5 412.1 L1095.5 403 L1095.5 400 M1066.2 428.2 L1066.2 489.8 L1064.2 494.8 L1066.2 499.9 L1067.2 505.9 L1062.2 513 L1058.2 519 L1056.1 525.1 L1054.1 531.2 L1053.1 537.2 L1048.1 540.2 L1045 544.3 L1047.1 549.3 L1040 548.3 M1081.4 425.8 L1123.7 425.8 L1123.7 498.9 M1123.7 427.2 L1151 426.2 M1173.2 400 L1169.1 404 L1163.1 407.1 L1160.1 414.1 L1157 420.2 L1151 426.2 L1157 429.9 L1163.1 433.3 L1166.1 431.9 L1172.2 436.3 L1181.2 433.9 L1189.3 432.7 L1199.4 425.8 L1213.5 420.2 L1222.6 416.1 L1231.7 411.7 L1241.8 405 L1249.8 400 M1213.9 420.2 L1213.9 479.7 L1313.6 479.7 M1229.7 414.1 L1229.7 419.8 L1290 419.8 M1211.5 455.5 L1209.5 460.5 L1210.5 468.6 L1207.5 476.7 L1204.4 482.7 L1199.4 487.8 L1193.3 488.8 L1188.3 493.8 L1185.3 499.9 L1180.2 498.9 L1178.2 506.9 L1175.2 513 L1171.2 515 M1123.7 498.9 L1120.7 499.9 L1122.7 504.9 L1117.7 505.9 L1110.6 506.5 L1109.6 512 L1104.6 517 L1100.5 523.1 L1098.5 526.1 L1093.5 521.1 L1089.4 522.1 L1087.4 529.1 L1083.4 526.1 L1079.3 527.1 L1076.3 530.1 L1069.3 527.1 L1064.2 528.1 L1059.2 527.1 L1054.1 531.2 M1123.7 498.9 L1124.7 495.8 L1130.8 495.8 L1134.8 500.9 L1138.9 504.9 L1144.9 506.9 L1150 505.9 L1156 509 L1161.1 505.9 L1165.1 506.9 L1168.1 512 L1171.2 515 L1169.1 521.1 L1173.2 529.1 L1178.2 536.2 L1183.3 539.2 L1177.2 543.3 L1170.1 547.3 L1166.1 552.3 L1161.1 557.4 L1153 560.4 L1149 561.4 M1183.3 539.2 L1189.3 546.3 L1196.4 544.3 L1201.4 544.3 L1206.5 541.2 L1212.5 539.2 L1217.6 540.2 L1220.6 536.2 L1218.6 532.2 L1223.6 525.1 L1228.7 517 L1231.7 510 L1238.7 514 L1242.8 506.9 L1247.8 502.9 L1252.9 499.9 L1256.9 494.8 L1258.9 488.8 L1256.9 483.7 M1234.7 480.7 L1234.7 493.8 L1241.8 488.8 L1247.8 484.7 L1256.9 483.7 L1262 486.8 L1270 494.8 L1272 484.7 L1269 480.7 M1055.1 561 L1149 561.4 L1190.3 561.4 L1290 563 M1240 492 L1244.4 487.2 L1249.5 483.2 L1256 482.4 L1263.3 481.8 L1270.6 483.2 L1273.2 488.2 L1272.4 493 L1270.9 496.3 L1266.2 490.5 L1260.1 485.7 L1258.7 489.4 L1258.2 493.7 L1254.6 498.1 L1250.2 502.5 L1245.8 505.4 L1242.9 508.3 L1240 514.1 M1289.6 563.4 L1308.5 564 M1310 554.2 L1312.1 560.8 L1314.3 568.1 L1316.5 573.9 L1318.7 580 M1189.8 561.8 L1189.8 568.2 L1184.7 572.3 L1180.7 576.3 L1172.6 577.3 L1166.6 581.4 L1160.5 583.4 L1154.5 587.4 L1146.4 589.4 L1140.4 592.5 L1136.3 597.5 L1133.9 600.5 L1134.3 604.6 M1010.2 605 L1100 605.6 L1134.3 604.6 L1160.5 604.2 L1166.6 600.5 L1173.6 598.5 L1188.8 598.9 L1203.9 600.1 L1209 604.6 L1209 609.6 L1232.2 609.6 L1255.4 633.8 M1160.5 604.2 L1154.1 610.6 L1156.5 614.7 L1165.6 617.7 L1167.6 624.7 L1172.6 631.8 L1179.7 638.9 L1183.7 644.9 L1187.8 651 L1192.8 659 L1196.9 665.1 L1198.9 671.2 L1201.9 677.2 L1202.9 681.2 M1107.1 605.6 L1112.1 636.9 L1116.1 659 L1119.2 669.1 L1121.2 677.2 L1118.2 685.3 L1117.2 695.4 L1119.2 707.5 L1121.2 715.5 L1123.2 718.6 M1202.9 681.2 L1206.9 673.2 L1213 669.1 L1221.1 665.1 L1229.1 659 L1237.2 654 L1241.2 650 L1245.3 642.9 L1250.3 637.9 L1255.4 633.8 L1261.4 632.8 L1268.5 631.8 L1270.5 626.8 L1275.5 620.7 L1281.6 615.7 L1287.7 611.6 L1293.7 609.6 L1299.8 608.6 L1303.8 604.6 L1298.7 601.5 L1291.7 597.5 L1288.7 593.5 L1296.7 592.5 L1303.8 590.4 L1309.8 587.4 L1313.9 584.4 L1318.9 582.4 L1316.9 576.3 L1313.9 568.2 L1311.9 562.2 L1310.9 554.1 L1308.8 548.1 L1305.8 540 M1202.9 681.2 L1199.9 689.3 L1195.8 699.4 L1192.8 707.5 L1193.8 715.5 L1194.8 720 M1059.6 709.1 L1100 709.1 L1119.2 709.1 M1117.2 700 L1119.2 709.1 L1121.2 717.2 L1179.7 721.2 L1178.7 727.2 L1182.7 726.2 L1183.7 715.1 L1188.8 716.1 L1193.8 718.2 M1193.8 700 L1193.8 708.1 L1193.8 718.2 L1196.9 730.3 L1200.9 744.4 L1204.9 756.5 L1210 770.6 L1214 784.7 L1219 798.9 L1223.1 811 L1225.1 821.1 L1224.1 833.2 L1222.7 845.3 L1220.1 853.3 L1216 860.4 L1210 863.4 L1203.9 864.4 L1199.9 861.4 L1200.9 857.4 L1198.9 852.3 L1194.8 847.3 L1188.8 843.3 L1186.8 837.2 L1184.7 829.1 L1180.7 823.1 L1177.7 819 L1176.7 815 L1173.6 809 L1170.6 802.9 L1168.6 796.9 L1167.6 786.8 L1168.6 778.7 L1169.6 770.6 L1167.6 762.6 L1162.6 757.5 L1156.5 751.5 L1152.5 746.4 L1147.4 740.4 L1141.4 736.3 L1137.3 734.3 L1133.3 737.3 L1128.2 738.3 L1122.2 740.4 L1117.2 743.4 L1111.1 743.4 L1109.1 739.3 L1108.1 734.3 L1104 730.3 L1100 728.2 M1012 563.6 L1014 569.1 L1010 573.1 L1005.9 578.2 L1021.1 578.2 M900 632.6 L905 631.6 L910.1 635.7 L915.1 638.7 L920.2 640.7 L929.3 641.7 M929.9 641.7 L929.9 681.1 L933.3 689.1 L936.3 697.2 L939.3 705.3 L940.4 713.3 L937.3 723.4 L935.3 731.5 L936.3 740 M1021.1 572.1 L1022.1 578.2 L1019 584.2 L1014 590.3 L1011 596.3 L1010 603.4 L1004.9 608.4 L1000.9 616.5 L996.9 622.6 L992.8 626.6 L991.8 633.6 L988.8 638.7 L988.8 646.8 L990.8 654.8 L991.8 662.9 L993.8 671 L993.8 678 L989.8 682.1 L986.8 689.1 L982.7 697.2 L980.7 704.3 L980.7 710.3 L1019 710.3 L1021.1 717.4 L1022.1 725.5 L1023.1 731.5 M1010 604 L1150 604.8 M1054.4 604.8 L1052.3 630.6 L1050.3 656.9 L1048.3 681.1 L1047.3 701.2 L1048.3 719.4 L1048.9 725.5 M1106.8 605.4 L1110.9 626.6 L1115.9 652.8 L1119.9 669 L1120.9 677 L1117.9 689.1 L1116.9 701.2 L1118.9 711.3 L1120.9 715.4 M1118.9 709.7 L1063.4 709.7 L1064.4 714.4 L1069.5 719.4 L1070.5 723.4 M1026.1 564.4 L1055.4 564.4 L1056.4 561.6 M1026.1 728.2 L1033.2 725.8 L1041.2 724.2 L1049.3 725.2 L1053.3 726.2 L1055.4 715.1 L1056.4 720.2 L1058.4 727.2 L1065.5 726.2 L1069.5 723.2 L1075.5 721.2 L1081.6 722.2 L1089.7 722.6 L1095.7 724.2 L1101.8 728.2 L1107.8 732.3 L1110.9 737.3 L1110.9 743.4 L1115.9 742.4 L1122 740.4 L1128 737.3 L1134.1 734.3 L1140.1 733.3 L1145.2 736.3 L1149.2 741.4 L1150 743.4 M1004.9 731.3 L1010 726.2 L1017 727.8 L1020.1 732.3 L1015 735.3 L1007.9 734.7Z M939.3 700 L940.4 710.1 L938.3 722.2 L936.3 734.3 L932.3 741.4 L930.3 743.4 M803.9 616.5 L808.3 619.5 L813.3 619.5 L817.4 618.5 L821.4 623.6 L827.5 625.6 L833.5 626.6 L838.6 627.6 L842.6 626.6 L846.6 631.6 L849.7 634.7 L853.7 631.6 L858.7 634.7 L862.8 637.7 L867.8 632.6 L872.9 633.6 L876.9 635.7 L880.9 637.7 L888 634.7 L895.1 632.2 L901.1 632.6 L906.2 631.6 L910 633.6 M739.7 683.5 L663 683.5 L663 689.1 L638.8 689.1 M782.1 753.5 L787.1 759.5 L791.2 767.6 L795.2 775.7 L800.2 783.7 L805.3 790.8 L810.3 797.9 L814.4 803.9 L815.4 812 L818.4 819 L821.4 826.1 L823.4 831.2 L831.5 834.8 L837.6 838.2 L843.6 840.2 L850.7 841.2 L856.7 843.7 L862.8 843.3 L864.2 840.2 M1028.8 550 L1030.4 552.1 L1033.8 552.7 L1033.2 557.2 L1032.1 561.7 L1027.1 562.8 L1023.2 564.5 L1023.2 568.4 L1021.3 572.9 M1040 548.3 L1036 545.4 L1032.7 547.1 L1033.8 552.7 M863.5 840.3 L861 834.4 L858.5 824.3 L856.8 814.2 L856.8 807.5 L852.1 804.1 L856.8 800.7 L855.5 794 L861.9 787.3 L865.2 784.8 L868.9 777.5 L873.6 771.3 L882.1 769.6 L890.5 769.6 L897.2 766.3 L903.9 761.2 L906.4 756.2 L910.6 752 L907.6 745.6 L914 741 L914 746.1 L920.7 745.2 L929.2 742.7 L934.2 741 L942.6 740.5 L949.3 742.7 L956.1 746.1 L964.5 747.8 L969.5 745.2 L968.7 741.9 L974.6 740.5 L979.6 742.7 L984.7 747.8 L989.7 752.8 L993.9 757.8 L998.1 760.4 L1002.3 755.3 L1007.4 756.2 L1010.7 760.4 L1014.9 756.2 L1016.6 750.3 L1021.7 752.8 L1025 755.3 L1030.1 756.2 L1035.1 758.7 L1033.4 762.9 L1027.6 763.7 L1029.2 759.5 L1025 756.2 L1022.5 751.1 L1025 746.9 L1028.4 742.7 L1030.9 738.5 L1031.8 733.5 L1026.7 731.8 L1026 728.2 M663.3 686.9 L665.8 686.9 L669.8 692.3 L673.8 698.4 L679.2 701 L684.6 705.8 L687.3 709.8 L692.7 713.2 L698.1 716.5 L701.4 721.9 L703.4 727.3 L704.8 733.3 L706.1 739.4 L709.5 744.8 L714.2 749.5 L719.6 754.2 L725 758.2 L730.3 762.3 L735.7 764.3 L739.8 762.3 L743.1 756.9 L745.2 750.2 L747.2 743.4 L753.2 740.1 L760 740.7 L768 741.4 L773.4 742.8 L776.8 747.5 L780.8 750.8 L782.2 753.5 M323.6 235.8 L905.4 235.8 M293.3 419.6 L570.4 419.6 M381.8 419.6 L381.8 498.3 L494.9 603.3 M507.4 419.6 L507.4 571.8 M570.4 340.8 L570.4 445.8 M570.4 354 L570.4 419.6 M570.4 340.8 L717.9 340.8 M570.4 445.8 L760 445.8 M717.9 235.8 L717.9 445.8 M717.9 316.2 L875.7 316.2 M717.9 393.3 L834.8 393.3 M612.5 445.8 L612.5 699.7 M507.4 550.8 L916.6 550.8 M760 445.8 L760 550.8 M760 472.1 L902 472.1 M740 550.8 L740 564 M739.1 564 L738.7 682.1 M740 564 L803.2 564 L803.2 614.9 M878 380.2 L988.2 380.2 M892.3 456.9 L977.7 456.1 M916.8 495.2 L916.6 564 M916.6 564 L1010.7 564 M916.6 550.8 L916.6 564 L920.6 592.8 L919.5 639 M928.8 641.4 L928.8 655.3 M928.8 655.3 L989.2 655.8"/>
<path style="fill:#000;stroke-width:1.6" d="M328.8 521.8 L333 520.1 L338.6 523.5 L334.7 526 L336.4 531.9 L342.2 538.6 L340.6 540.6 L334.7 536.9 L331.3 535.3 L329.1 530.2Z M1107.5 336.9 L1111.5 335.8 L1112.6 340.9 L1110.5 346.9 L1106.9 345.9 L1106.5 340.9Z M1165 789.2 L1169.6 787.2 L1175.1 791.8 L1173.6 796.4 L1168.6 798.5 L1165 794.8Z M1176.7 816 L1181.7 815.4 L1182.3 820.1 L1178.7 820.7Z M1200.5 859 L1204.9 857.8 L1206.5 861.4 L1202.9 863.8Z M324.9 241.3 L330.5 241.3 L332.4 245.2 L332 251.9 L336.4 260.9 L333.9 269.8 L334.4 278.3 L330.5 282.4 L323.4 287.8 L318.5 285 L317 277.9 L320.7 270.4 L324.9 263.7 L323.2 258.6 L326 253 L326.8 247.4 L324.1 244.3Z M316.7 245.7 L321 242.7 L324.9 244.6 L324.1 250.3 L318.9 250.8Z M1293.6 598.4 L1299.2 596.1 L1304.3 602.9 L1302.6 609.6 L1298.1 613.5 L1292.5 612.4 L1294.8 606.2Z M850.1 802.4 L854.3 800.7 L856 805.8 L851.8 806.6Z M854.3 792.3 L858.5 791.5 L859.3 795.7 L855.5 796.5Z M867.8 776.3 L872 774.7 L873.6 778 L869.4 779.7Z M873.6 769.6 L883.7 767.9 L884.6 771.3 L875.3 773Z M907.3 742.7 L914.9 739.8 L915.7 745.2 L911.5 749.4 L908.1 747.8Z M967.8 741 L974.6 739.3 L979.6 741.9 L974.6 743.5 L969.5 745.2Z M1017.5 732.6 L1024.2 731.8 L1025.9 736.8 L1020.8 738.8Z"/>
<path style="fill:#fff;stroke:none" d="M322.6 273.2 L325.4 272.6 L327.7 275.4 L324.9 276.6Z M327 246.5 L329.5 245.5 L330.5 248.5 L328 249.5Z"/>
<path style="stroke-width:4" d="M1423.9 427.9 L1419.5 426.4 L1415.1 430.1 L1410 433 L1404.9 430.8 L1407.9 426.4 L1409.3 426.4 L1407.9 418.4 M1418.1 437.4 L1422.4 435.5 L1426.8 436.3 L1423.9 438.4 L1419.5 438.8Z M1430.4 438.8 L1434.1 436.6 L1437.7 437.4 L1435.5 440.3 L1431.9 440.3Z M1273.2 488.2 L1275.7 493 L1280.1 495.2 L1285.2 498.8 L1290.3 501 L1288.8 505.4 L1284.5 508.3 L1281.5 511.9 L1280.8 516.3 L1283.7 517.8 L1286.6 514.1 L1291 516.3 L1296.8 520 L1301.2 522.1 L1303.4 525.8 M1319.4 526.5 L1315.8 531.6 L1311.4 538.9 L1308.5 546.2 L1310.7 549.8 L1312.9 543.3 L1317.2 537.5 L1321.6 530.2 L1326 524.3 L1328.9 517"/>
<path style="stroke-width:5" d="M1346.6 457 L1351 452.7 L1354.7 447.6 L1358.3 444.7 M1288.1 545.5 L1293.9 549.8 L1298.3 554.2 L1304.1 554.9 L1310 554.2 M1289.7 544 L1296.7 550.1 L1303.8 552.1 L1307.8 546.1 M1019 732.3 L1023.1 737.3 L1026.1 734.3 L1022.1 730.3Z"/>
<path style="stroke-width:3.8" d="M1308.5 484.3 L1304.1 487.2 L1299.8 490.1 L1296.6 493 L1296.8 499.6 L1296.1 506.8 L1295.4 512.7 L1297.6 516.3 L1301.9 520 L1303.4 525.8 L1304.1 531.6 L1303.4 537.5 L1304.1 543.3 L1302.7 547.7 L1305.6 552 L1310 554.2"/>
<path style="stroke-width:4.2" d="M1311.4 485 L1307.3 489.4 L1304.9 495.2 L1306.3 499.6 L1303.8 506.8 L1307 511.2 L1304.9 515.6 L1309.2 517 L1312.9 520 L1314.3 525.8 L1319.4 526.5 M1289.6 525.1 L1295.4 530.2 L1301.9 536 M1291.7 538.2 L1298.3 543.3 L1304.1 546.2 M1304.8 577.1 L1310.4 576 L1313.8 580.4 L1312.7 586.1 L1308.2 588.3 L1305.4 583.8Z M1278.5 610.9 L1282.4 613.2 L1289.1 612.4 L1293.6 611.3"/>
<path style="stroke-width:4.8" d="M1293.6 569.2 L1293.6 579.3 L1298.1 579.9 L1304.8 574.8 L1308.2 571.5 M1287.5 591.4 L1293.6 590.5 L1299.2 589.4 L1304.8 593.9 L1309.3 595 L1313.8 591.1 L1318.3 584.9 M1286.3 600.9 L1292.5 602.3 L1297 599.5 L1298.7 592.8"/>
</g>
<text class="lt" x="1543" y="336.9">Earliest date</text>
<text class="lt" x="1543" y="364.8">of 1st gen.</text>
<text class="lt" x="1543" y="392.7">adult emergence</text>
<g class="ll">
<rect x="1543" y="406.9" width="26" height="25.6" fill="#4d4d4d"/><text x="1579" y="426.4">excl.-sev.</text>
<rect x="1543" y="432.4" width="26" height="25.6" fill="#b3b3b3"/><text x="1579" y="451.9">excl.-mod.</text>
<rect x="1543" y="457.8" width="26" height="25.6" fill="#f4cccc"/><text x="1579" y="477.3">Jul-23</text>
<rect x="1543" y="483.3" width="26" height="25.6" fill="#f49a9a"/><text x="1579" y="502.8">Jul-30</text>
<rect x="1543" y="508.8" width="26" height="25.6" fill="#e6b8af"/><text x="1579" y="528.3">Aug-06</text>
<rect x="1543" y="534.2" width="26" height="25.6" fill="#cc8f85"/><text x="1579" y="553.8">Aug-13</text>
<rect x="1543" y="559.7" width="26" height="25.6" fill="#b3695e"/><text x="1579" y="579.2">Aug-20</text>
<rect x="1543" y="585.2" width="26" height="25.6" fill="#994536"/><text x="1579" y="604.7">Aug-27</text>
<rect x="1543" y="610.7" width="26" height="25.6" fill="#ffb0d8"/><text x="1579" y="630.2">Sep-03</text>
<rect x="1543" y="636.1" width="26" height="25.6" fill="#ff7fe0"/><text x="1579" y="655.6">Sep-10</text>
<rect x="1543" y="661.6" width="26" height="25.6" fill="#ff55ee"/><text x="1579" y="681.1">Sep-17</text>
<rect x="1543" y="687.1" width="26" height="25.6" fill="#ff2df5"/><text x="1579" y="706.6">Sep-24</text>
<rect x="1543" y="712.5" width="26" height="25.6" fill="#e1bee7"/><text x="1579" y="732.0">Oct-01</text>
<rect x="1543" y="738.0" width="26" height="25.6" fill="#c896d8"/><text x="1579" y="757.5">Oct-08</text>
<rect x="1543" y="763.5" width="26" height="25.6" fill="#b56fc9"/><text x="1579" y="783.0">Oct-15</text>
<rect x="1703" y="406.9" width="26" height="25.6" fill="#9f4bba"/><text x="1739" y="426.4">Oct-22</text>
<rect x="1703" y="432.4" width="26" height="25.6" fill="#8a22aa"/><text x="1739" y="451.9">Oct-29</text>
<rect x="1703" y="457.8" width="26" height="25.6" fill="#b3ecff"/><text x="1739" y="477.3">Nov-05</text>
<rect x="1703" y="483.3" width="26" height="25.6" fill="#8ad7f0"/><text x="1739" y="502.8">Nov-12</text>
<rect x="1703" y="508.8" width="26" height="25.6" fill="#5cc0e8"/><text x="1739" y="528.3">Nov-19</text>
<rect x="1703" y="534.2" width="26" height="25.6" fill="#2fa9dc"/><text x="1739" y="553.8">Nov-26</text>
<rect x="1703" y="559.7" width="26" height="25.6" fill="#a5c5ea"/><text x="1739" y="579.2">Dec-03</text>
<rect x="1703" y="585.2" width="26" height="25.6" fill="#7a96ea"/><text x="1739" y="604.7">Dec-10</text>
<rect x="1703" y="610.7" width="26" height="25.6" fill="#5462f0"/><text x="1739" y="630.2">Dec-17</text>
<rect x="1703" y="636.1" width="26" height="25.6" fill="#2b34f8"/><text x="1739" y="655.6">Dec-24</text>
<rect x="1703" y="661.6" width="26" height="25.6" fill="#0000ff"/><text x="1739" y="681.1">Dec-31</text>
</g>
</svg>
</body></html>
